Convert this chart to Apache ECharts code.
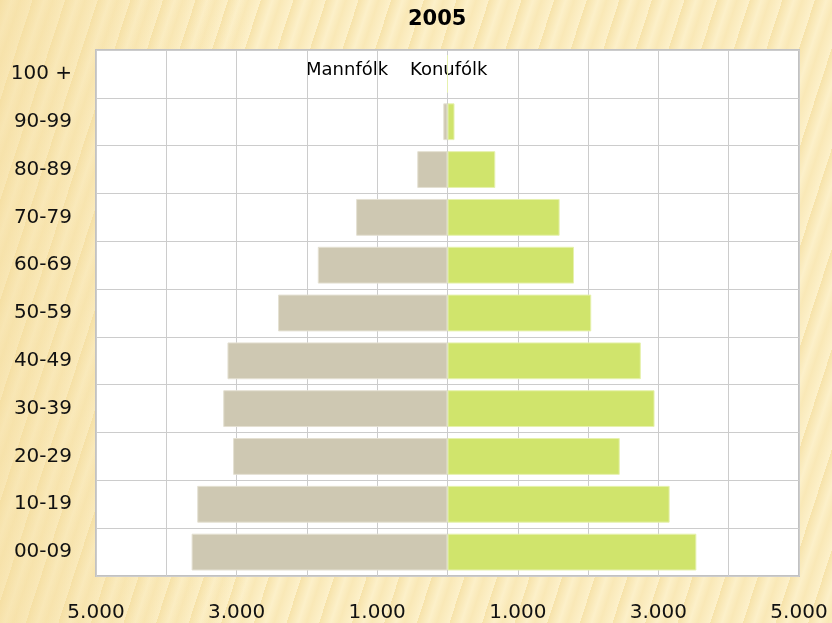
<!DOCTYPE html>
<html>
<head>
<meta charset="utf-8">
<title>2005</title>
<script src="https://cdn.jsdelivr.net/npm/echarts@6/dist/echarts.min.js"></script>
<style>
  html, body {
    margin: 0;
    padding: 0;
  }
  body {
    width: 832px;
    height: 623px;
    background-color: #fcefc6;
    background-image:
      linear-gradient(90deg, rgba(244, 220, 158, 0.5) 0%, rgba(252, 239, 197, 0) 30%, rgba(253, 242, 205, 0) 100%),
      repeating-linear-gradient(108deg, rgba(242, 216, 146, 0.55) 0px, rgba(253, 243, 210, 0.25) 11px, rgba(246, 224, 164, 0.45) 19px, rgba(254, 245, 214, 0.3) 31px);
  }
  #chart {
    width: 832px;
    height: 623px;
  }
</style>
</head>
<body>
<div id="chart"></div>
<script>
// aldursflokkar, neðst upp
const ageGroups = ['00-09', '10-19', '20-29', '30-39', '40-49', '50-59', '60-69', '70-79', '80-89', '90-99', '100 +']
// Mannfólk (karlar) - teiknað til vinstri
const maleValues = [3640, 3560, 3050, 3190, 3130, 2410, 1845, 1300, 430, 60, 0]
// Konufólk (konur) - teiknað til hægri
const femaleValues = [3540, 3160, 2450, 2945, 2750, 2045, 1800, 1595, 680, 100, 0]
const axisMin = -5000
const axisMax = 5000
const axisStep = 1000
const labeledTicks = [-5000, -3000, -1000, 1000, 3000, 5000]

const fontFamily = 'DejaVu Sans, Verdana, sans-serif'

const formatThousands = (value) => {
  const s = String(Math.abs(value))
  return s.replace(/\B(?=(\d{3})+(?!\d))/g, '.')
}

const chart = echarts.init(document.getElementById('chart'), null, { renderer: 'canvas' })

const option = {
  backgroundColor: 'transparent',
  animation: false,
  title: {
    text: '2005',
    left: 408,
    top: 9,
    padding: 0,
    textStyle: {
      fontFamily,
      fontSize: 21,
      fontWeight: 'bold',
      color: '#000'
    }
  },
  graphic: [
    {
      type: 'text',
      left: 306,
      top: 61,
      style: { text: 'Mannfólk', font: '18px ' + fontFamily, fill: '#000' }
    },
    {
      type: 'text',
      left: 410,
      top: 61,
      style: { text: 'Konufólk', font: '18px ' + fontFamily, fill: '#000' }
    }
  ],
  grid: {
    left: 96,
    right: 33,
    top: 50,
    bottom: 47,
    show: true,
    backgroundColor: '#fff',
    borderColor: '#c2c2c2',
    borderWidth: 2
  },
  xAxis: {
    type: 'value',
    min: axisMin,
    max: axisMax,
    interval: axisStep,
    axisLine: { show: false },
    axisTick: { show: false },
    axisLabel: {
      margin: 27,
      fontFamily,
      fontSize: 20,
      color: '#111',
      showMinLabel: true,
      showMaxLabel: true,
      formatter: (value) => labeledTicks.includes(value) ? formatThousands(value) : ''
    },
    splitLine: {
      show: true,
      lineStyle: { color: '#cccccc', width: 1 }
    }
  },
  yAxis: {
    type: 'category',
    data: ageGroups,
    boundaryGap: true,
    axisLine: { show: false },
    axisTick: { show: false },
    axisLabel: {
      margin: 24,
      fontFamily,
      fontSize: 20,
      color: '#111'
    },
    splitLine: {
      show: true,
      lineStyle: { color: '#cccccc', width: 1 }
    }
  },
  series: [
    {
      name: 'Mannfólk',
      type: 'bar',
      data: maleValues.map(v => -v),
      barCategoryGap: '23%',
      barGap: '-100%',
      itemStyle: {
        color: '#cec8b2',
        borderColor: '#e4e0d2',
        borderWidth: 1
      }
    },
    {
      name: 'Konufólk',
      type: 'bar',
      data: femaleValues,
      barCategoryGap: '23%',
      barGap: '-100%',
      itemStyle: {
        color: '#d0e46c',
        borderColor: '#e6f1ae',
        borderWidth: 1
      }
    }
  ]
}

chart.setOption(option)
</script>
</body>
</html>
